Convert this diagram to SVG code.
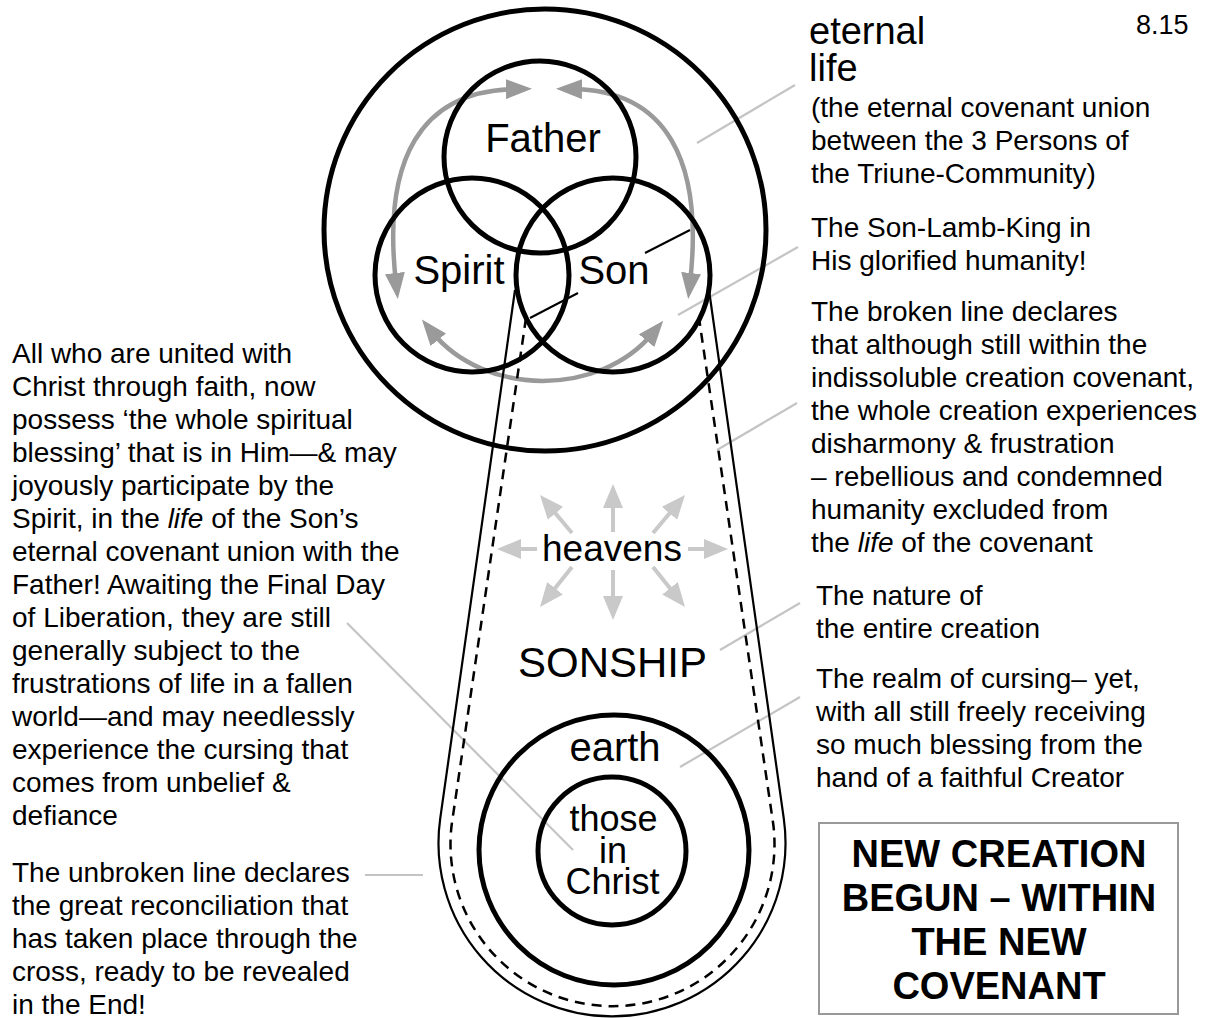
<svg xmlns="http://www.w3.org/2000/svg" width="1208" height="1018" viewBox="0 0 1208 1018">
<defs>
<style>
text{font-family:"Liberation Sans",Arial,Helvetica,sans-serif;fill:#000}
.t{font-size:28px}
.lbl{text-anchor:middle}
.thick{fill:none;stroke:#000;stroke-width:5}
.lead{stroke:#c4c4c4;stroke-width:2.2;fill:none}
.blk{stroke:#000;stroke-width:2;fill:none}
.garc{fill:none;stroke:#9a9a9a;stroke-width:4.5}
.ray{stroke:#c9c9c9;stroke-width:4}
.box{font-size:38px;font-weight:bold;text-anchor:middle}
</style>
<marker id="ga" viewBox="0 0 26 20" markerWidth="26" markerHeight="20" refX="10" refY="10" orient="auto-start-reverse" markerUnits="userSpaceOnUse">
<path d="M0,0 L26,10 L0,20 z" fill="#9a9a9a"/>
</marker>
<marker id="la" viewBox="0 0 24 20" markerWidth="24" markerHeight="20" refX="8" refY="10" orient="auto" markerUnits="userSpaceOnUse">
<path d="M0,0 L24,10 L0,20 z" fill="#c9c9c9"/>
</marker>
</defs>
<rect width="1208" height="1018" fill="#fff"/>

<g id="connectors">
<path class="garc" d="M396,283 C382,160 420,90 516,89" marker-start="url(#ga)" marker-end="url(#ga)"/>
<path class="garc" d="M690,283 C704,160 666,90 572,89" marker-start="url(#ga)" marker-end="url(#ga)"/>
<path class="garc" d="M432,332 C485,397 600,397 653,333" marker-start="url(#ga)" marker-end="url(#ga)"/>
<line class="ray" x1="613" y1="532" x2="613" y2="500" marker-end="url(#la)"/>
<line class="ray" x1="613" y1="570" x2="613" y2="604" marker-end="url(#la)"/>
<line class="ray" x1="537" y1="549" x2="513" y2="549" marker-end="url(#la)"/>
<line class="ray" x1="688" y1="549" x2="712" y2="549" marker-end="url(#la)"/>
<line class="ray" x1="572" y1="533" x2="550.3" y2="507.2" marker-end="url(#la)"/>
<line class="ray" x1="653" y1="533" x2="674.7" y2="507.2" marker-end="url(#la)"/>
<line class="ray" x1="572" y1="567" x2="550" y2="594.5" marker-end="url(#la)"/>
<line class="ray" x1="653" y1="567" x2="675" y2="594.5" marker-end="url(#la)"/>
<line class="lead" x1="697" y1="143" x2="795" y2="85"/>
<line class="lead" x1="678" y1="315" x2="798" y2="247"/>
<line class="lead" x1="717" y1="450" x2="797" y2="403"/>
<line class="lead" x1="720" y1="650" x2="800" y2="603"/>
<line class="lead" x1="680" y1="767" x2="800" y2="697"/>
<line class="lead" x1="347" y1="623" x2="573" y2="850"/>
<line class="lead" x1="365" y1="875" x2="423" y2="875"/>
<line class="blk" x1="530" y1="318" x2="578" y2="293"/>
<line class="blk" x1="645" y1="253" x2="690" y2="230"/>
</g>

<g id="eternal-life"><circle class="thick" cx="545" cy="230" r="221"/></g>
<g id="father"><circle class="thick" cx="540" cy="157" r="96"/><text class="lbl" x="543" y="152" font-size="40">Father</text></g>
<g id="spirit"><circle class="thick" cx="472" cy="275" r="97"/><text class="lbl" x="459" y="284" font-size="40">Spirit</text></g>
<g id="son"><circle class="thick" cx="613" cy="275" r="97"/><text class="lbl" x="614" y="284" font-size="40">Son</text></g>

<g id="creation">
<path d="M515,290 L440.2,818.7 A173.5,173.5 0 1 0 783.8,818.7 L709,290" fill="none" stroke="#000" stroke-width="2.2"/>
<path d="M526,318 L451.7,824.5 A162,162 0 1 0 773.3,824.5 L699,318" fill="none" stroke="#000" stroke-width="2.5" stroke-dasharray="10 7"/>
</g>

<g id="heavens"><text class="lbl" x="612" y="561" font-size="37">heavens</text></g>
<g id="sonship"><text class="lbl" x="612.5" y="677" font-size="42">SONSHIP</text></g>
<g id="earth"><circle class="thick" cx="614" cy="850" r="135"/><text class="lbl" x="615" y="761" font-size="40">earth</text></g>
<g id="those-in-christ"><circle class="thick" cx="612" cy="851" r="74"/>
<text class="lbl" font-size="36"><tspan x="613.5" y="831">those</tspan><tspan x="613" y="863">in</tspan><tspan x="612.5" y="894">Christ</tspan></text></g>

<g id="note-left">
<text class="t">
<tspan x="12" y="363">All who are united with</tspan>
<tspan x="12" y="396">Christ through faith, now</tspan>
<tspan x="12" y="429">possess ‘the whole spiritual</tspan>
<tspan x="12" y="462">blessing’ that is in Him—&amp; may</tspan>
<tspan x="12" y="495">joyously participate by the</tspan>
<tspan x="12" y="528">Spirit, in the <tspan font-style="italic">life</tspan> of the Son’s</tspan>
<tspan x="12" y="561">eternal covenant union with the</tspan>
<tspan x="12" y="594">Father! Awaiting the Final Day</tspan>
<tspan x="12" y="627">of Liberation, they are still</tspan>
<tspan x="12" y="660">generally subject to the</tspan>
<tspan x="12" y="693">frustrations of life in a fallen</tspan>
<tspan x="12" y="726">world—and may needlessly</tspan>
<tspan x="12" y="759">experience the cursing that</tspan>
<tspan x="12" y="792">comes from unbelief &amp;</tspan>
<tspan x="12" y="825">defiance</tspan>
</text>
<text class="t">
<tspan x="12" y="882">The unbroken line declares</tspan>
<tspan x="12" y="915">the great reconciliation that</tspan>
<tspan x="12" y="948">has taken place through the</tspan>
<tspan x="12" y="981">cross, ready to be revealed</tspan>
<tspan x="12" y="1014">in the End!</tspan>
</text>
</g>

<g id="note-right">
<text x="1136" y="34" font-size="27">8.15</text>
<text font-size="38"><tspan x="809" y="44">eternal</tspan><tspan x="809" y="81">life</tspan></text>
<text class="t">
<tspan x="811" y="117">(the eternal covenant union</tspan>
<tspan x="811" y="150">between the 3 Persons of</tspan>
<tspan x="811" y="183">the Triune-Community)</tspan>
</text>
<text class="t">
<tspan x="811" y="237">The Son-Lamb-King in</tspan>
<tspan x="811" y="270">His glorified humanity!</tspan>
</text>
<text class="t">
<tspan x="811" y="321">The broken line declares</tspan>
<tspan x="811" y="354">that although still within the</tspan>
<tspan x="811" y="387">indissoluble creation covenant,</tspan>
<tspan x="811" y="420">the whole creation experiences</tspan>
<tspan x="811" y="453">disharmony &amp; frustration</tspan>
<tspan x="811" y="486">– rebellious and condemned</tspan>
<tspan x="811" y="519">humanity excluded from</tspan>
<tspan x="811" y="552">the <tspan font-style="italic">life</tspan> of the covenant</tspan>
</text>
<text class="t">
<tspan x="816" y="605">The nature of</tspan>
<tspan x="816" y="638">the entire creation</tspan>
</text>
<text class="t">
<tspan x="816" y="688">The realm of cursing– yet,</tspan>
<tspan x="816" y="721">with all still freely receiving</tspan>
<tspan x="816" y="754">so much blessing from the</tspan>
<tspan x="816" y="787">hand of a faithful Creator</tspan>
</text>
</g>

<g id="new-creation-box">
<rect x="819" y="823" width="359" height="191" fill="none" stroke="#999" stroke-width="2"/>
<text class="box"><tspan x="999" y="867">NEW CREATION</tspan><tspan x="999" y="911">BEGUN – WITHIN</tspan><tspan x="999" y="955">THE NEW</tspan><tspan x="999" y="999">COVENANT</tspan></text>
</g>
</svg>
